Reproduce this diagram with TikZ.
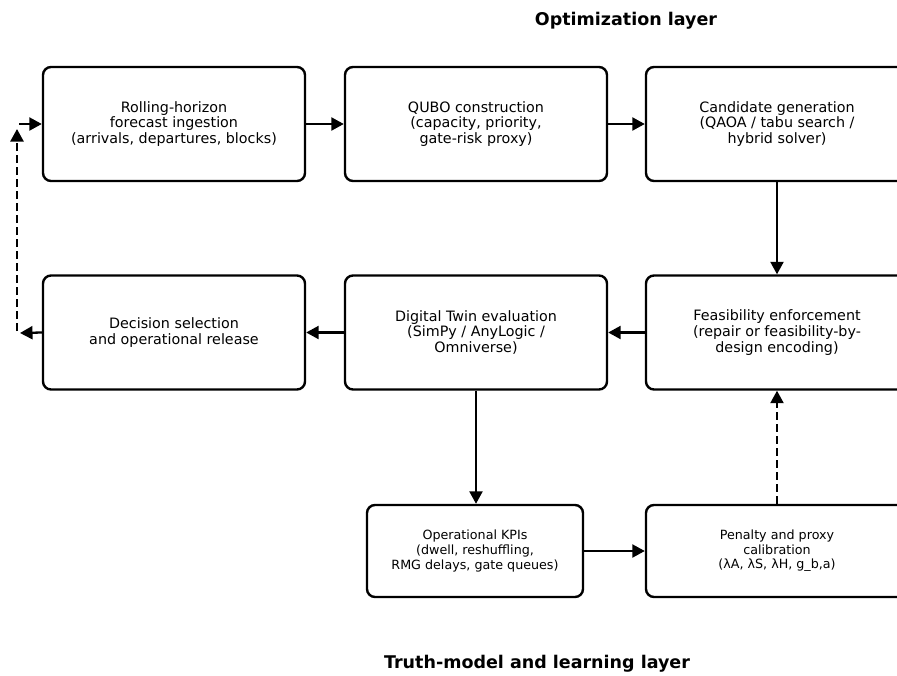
\documentclass[tikz,border=0pt]{standalone}
\usepackage{fontspec}
\setmainfont{DejaVu Sans}
\usetikzlibrary{arrows.meta}
\begin{document}
\begin{tikzpicture}[x=1pt,y=-1pt,
  box/.style={draw=black, line width=2.4pt, rounded corners=8pt, fill=white, align=center, inner sep=0pt,
    font=\fontsize{14.3}{15.6}\selectfont},
  bigbox/.style={box, minimum width=262pt, minimum height=114pt},
  smallbox/.style={box, minimum height=92pt, font=\fontsize{12.7}{14.6}\selectfont},
  arr/.style={line width=2.3pt, -{Triangle[length=12.5pt,width=13pt]}},
  darr/.style={arr, dash pattern=on 8pt off 4pt},
  title/.style={font=\fontsize{17.5}{20}\selectfont\bfseries}
]
\useasboundingbox (0,0) rectangle (897,675);
\begin{scope}
\clip (0,0) rectangle (897,675);
\node[bigbox] (roll) at (174,124) {Rolling-horizon\\forecast ingestion\\(arrivals, departures, blocks)};
\node[bigbox] (qubo) at (476,124) {QUBO construction\\(capacity, priority,\\gate-risk proxy)};
\node[bigbox] (cand) at (777,124) {Candidate generation\\(QAOA / tabu search /\\hybrid solver)};
\node[bigbox] (dec) at (174,332.5) {Decision selection\\and operational release};
\node[bigbox] (twin) at (476,332.5) {Digital Twin evaluation\\(SimPy / AnyLogic /\\Omniverse)};
\node[bigbox] (feas) at (777,332.5) {Feasibility enforcement\\(repair or feasibility-by-\\design encoding)};
\node[smallbox, minimum width=216pt] (kpi) at (475,551) {Operational KPIs\\(dwell, reshuffling,\\RMG delays, gate queues)};
\node[smallbox, minimum width=262pt] (pen) at (777,551) {Penalty and proxy\\calibration\\(λA, λS, λH, g\_b,a)};
\end{scope}
\node[title] (t1) at (626,21) {Optimization layer};
\node[title] (t2) at (537,664) {Truth-model and learning layer};

\coordinate (d1) at (20,333);
\coordinate (d2) at (17,331);
\coordinate (d3) at (17,129);
\coordinate (d4) at (19,124);

\draw[arr] (roll.east) -- (qubo.west);
\draw[arr] (qubo.east) -- (cand.west);
\draw[arr] (cand.south) -- (feas.north);
\draw[arr] (feas.west) -- (twin.east);
\draw[arr] (twin.west) -- (dec.east);
\draw[arr] (dec.west) -- (d1);
\draw[darr] (d2) -- (d3);
\draw[arr] (d4) -- (roll.west);
\draw[arr] (twin.south) -- (twin.south |- kpi.north);
\draw[arr] (kpi.east) -- (pen.west);
\draw[darr] (pen.north) -- (feas.south);
\end{tikzpicture}
\end{document}
